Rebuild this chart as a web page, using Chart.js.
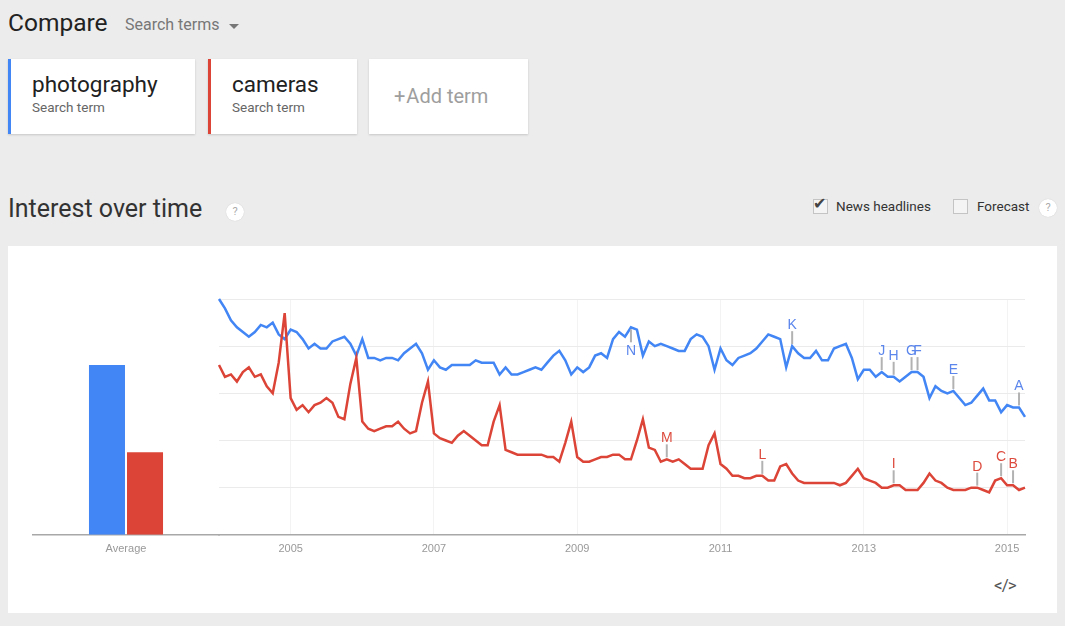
<!DOCTYPE html>
<html>
<head>
<meta charset="utf-8">
<script src="https://cdn.jsdelivr.net/npm/chart.js@4.4.1/dist/chart.umd.min.js"></script>
<style>
  body { margin: 0; width: 1065px; height: 626px; overflow: hidden; background: #ececec; font-family: Roboto, Arial, sans-serif; position: relative; }
  .abs { position: absolute; line-height: 1; white-space: nowrap; }
  .card { position: absolute; top: 59px; height: 75px; background: #fff; box-shadow: 0 1px 2px rgba(0,0,0,0.16); box-sizing: border-box; }
  .term { position: absolute; left: 24px; top: 14px; font-size: 22.5px; color: #212121; line-height: 1; }
  .sub { position: absolute; left: 24px; top: 42px; font-size: 13.5px; color: #666; line-height: 1; }
  .help { position: absolute; width: 18px; height: 18px; border-radius: 50%; background: #fff; color: #aaa; font: 11px Roboto, Arial; text-align: center; line-height: 18px; box-shadow: 0 0 1px rgba(0,0,0,0.2); }
  .box { position: absolute; width: 15px; height: 15px; border: 1px solid #c4c4c4; background: #f4f4f4; box-sizing: border-box; }
  #panel { position: absolute; left: 8px; top: 246px; width: 1049px; height: 367px; background: #fff; }
  canvas { position: absolute; }
</style>
</head>
<body>
<div class="abs" style="left:8px;top:11px;font-size:24.5px;color:#222;">Compare</div>
<div class="abs" style="left:125px;top:17px;font-size:16px;color:#777;">Search terms</div>
<div class="abs" style="left:229px;top:24px;width:0;height:0;border-left:5px solid transparent;border-right:5px solid transparent;border-top:5px solid #777;"></div>

<div class="card" style="left:8px;width:187px;border-left:3px solid #4285f4;">
  <div class="term" style="left:21px;">photography</div>
  <div class="sub" style="left:21px;">Search term</div>
</div>
<div class="card" style="left:208px;width:149px;border-left:3px solid #db4437;">
  <div class="term" style="left:21px;">cameras</div>
  <div class="sub" style="left:21px;">Search term</div>
</div>
<div class="card" style="left:369px;width:159px;">
  <div class="abs" style="left:25px;top:27px;font-size:20px;color:#9e9e9e;"><span style="margin-right:1px;">+</span>Add term</div>
</div>

<div class="abs" style="left:8px;top:196px;font-size:25px;color:#333;">Interest over time</div>
<div class="help" style="left:226px;top:203px;">?</div>

<div class="box" style="left:813px;top:199px;"></div>
<div class="abs" style="left:813px;top:196px;font-size:16px;color:#444;font-family:'DejaVu Sans';">&#10004;</div>
<div class="abs" style="left:836px;top:200px;font-size:13.5px;color:#333;">News headlines</div>
<div class="box" style="left:953px;top:199px;"></div>
<div class="abs" style="left:977px;top:200px;font-size:13.5px;color:#333;">Forecast</div>
<div class="help" style="left:1039px;top:199px;">?</div>

<div id="panel"></div>
<canvas id="avgChart" width="200" height="290" style="left:20px;top:280px;"></canvas>
<canvas id="lineChart" width="845" height="290" style="left:200px;top:280px;"></canvas>
<div class="abs" style="left:994px;top:577px;font-size:17px;color:#555;letter-spacing:-1px;">&lt;/&gt;</div>

<script>
// monthly interest, Jan 2004 onwards
const photography = [
  100, 96, 91, 88, 86, 84, 86, 89, 88, 90, 85, 83,
  87, 86, 83, 79, 81, 79, 79, 82, 83, 84, 81, 76,
  83, 75, 75, 74, 75, 75, 74, 77, 79, 81, 77, 70,
  74, 71, 70, 72, 72, 72, 72, 74, 73, 73, 73, 68,
  71, 68, 68, 69, 70, 71, 70, 73, 76, 78, 74, 68,
  71, 69, 71, 76, 77, 75, 83, 86, 84, 88, 87, 76,
  82, 80, 81, 80, 79, 78, 78, 83, 85, 84, 80, 70,
  79, 74, 72, 75, 76, 77, 79, 82, 85, 84, 83, 71,
  80, 77, 75, 75, 78, 74, 74, 79, 80, 81, 75, 66,
  70, 70, 67, 69, 67, 67, 65, 67, 69, 69, 67, 58,
  63, 61, 60, 61, 58, 55, 56, 59, 62, 57, 57, 52,
  55, 54, 54, 50
];
const cameras = [
  72, 67, 68, 65, 69, 71, 67, 68, 63, 60, 73, 94,
  58, 53, 55, 52, 55, 56, 58, 56, 50, 49, 64, 75,
  48, 45, 44, 45, 46, 46, 48, 45, 43, 44, 56, 65,
  43, 41, 40, 39, 42, 44, 42, 40, 38, 38, 48, 55,
  36, 35, 34, 34, 34, 34, 34, 33, 33, 31, 39, 48,
  33, 31, 31, 32, 33, 33, 34, 34, 32, 32, 40, 49,
  37, 36, 31, 32, 31, 32, 30, 28, 28, 28, 38, 43,
  30, 28, 25, 25, 24, 24, 25, 25, 23, 23, 29, 30,
  26, 23, 22, 22, 22, 22, 22, 22, 21, 22, 25, 28,
  24, 23, 22, 20, 20, 21, 21, 19, 19, 19, 22, 26,
  23, 22, 20, 19, 19, 19, 20, 20, 19, 18, 23, 24,
  21, 21, 19, 20
];
const averageLabels = ['Average'];
const averages = [72, 35];
const headlines = [
  { letter: 'A', term: 'photography', month: '2015-03' },
  { letter: 'B', term: 'cameras', month: '2015-02' },
  { letter: 'C', term: 'cameras', month: '2014-12' },
  { letter: 'D', term: 'cameras', month: '2014-08' },
  { letter: 'E', term: 'photography', month: '2014-04' },
  { letter: 'F', term: 'photography', month: '2013-10' },
  { letter: 'G', term: 'photography', month: '2013-09' },
  { letter: 'H', term: 'photography', month: '2013-06' },
  { letter: 'I', term: 'cameras', month: '2013-06' },
  { letter: 'J', term: 'photography', month: '2013-04' },
  { letter: 'K', term: 'photography', month: '2012-01' },
  { letter: 'L', term: 'cameras', month: '2011-08' },
  { letter: 'M', term: 'cameras', month: '2010-04' },
  { letter: 'N', term: 'photography', month: '2009-10', below: true }
];

const months = [];
for (let i = 0; i < photography.length; i++) {
  const y = 2004 + Math.floor(i / 12);
  months.push(y + '-' + String(i % 12 + 1).padStart(2, '0'));
}
const isYearTick = i => months[i] && months[i].endsWith('-01') && (+months[i].slice(0, 4)) % 2 === 1;

const BLUE = '#4285f4', RED = '#db4437';
const letterColor = { photography: '#5b86ec', cameras: '#dd4b3e' };
const tickFont = { family: 'Arial, "Liberation Sans"', size: 11 };
const axisBorder = { color: '#a8a8a8', width: 1.5 };

const headlinePlugin = {
  id: 'headlines',
  afterDatasetsDraw(chart) {
    const ctx = chart.ctx;
    ctx.save();
    ctx.font = '14px Arial, "Liberation Sans"';
    ctx.textAlign = 'center';
    headlines.forEach(h => {
      const di = chart.data.datasets.findIndex(d => d.label === h.term);
      const idx = months.indexOf(h.month);
      const pt = chart.getDatasetMeta(di).data[idx];
      if (!pt) return;
      const dir = h.below ? 1 : -1;
      ctx.strokeStyle = '#b2b2b2';
      ctx.lineWidth = 2;
      ctx.beginPath();
      ctx.moveTo(pt.x, pt.y + dir * 2);
      ctx.lineTo(pt.x, pt.y + dir * 15);
      ctx.stroke();
      ctx.fillStyle = letterColor[h.term];
      ctx.textBaseline = h.below ? 'top' : 'alphabetic';
      ctx.fillText(h.letter, pt.x, pt.y + dir * 17);
    });
    ctx.restore();
  }
};

new Chart(document.getElementById('avgChart'), {
  type: 'bar',
  data: {
    labels: averageLabels,
    datasets: [
      { label: 'photography', data: [averages[0]], backgroundColor: BLUE },
      { label: 'cameras', data: [averages[1]], backgroundColor: RED }
    ]
  },
  options: {
    responsive: false,
    animation: false,
    categoryPercentage: 0.409,
    barPercentage: 0.947,
    layout: { padding: { left: 13, right: 1, top: 19, bottom: 6 } },
    plugins: { legend: { display: false }, tooltip: { enabled: false } },
    scales: {
      x: {
        grid: { display: false, drawTicks: false },
        border: axisBorder,
        ticks: { color: '#999', font: tickFont, padding: 8, maxRotation: 0 }
      },
      y: { display: false, min: 0, max: 100 }
    }
  }
});

new Chart(document.getElementById('lineChart'), {
  type: 'line',
  data: {
    labels: months,
    datasets: [
      { label: 'photography', data: photography, borderColor: BLUE, borderWidth: 2.5, pointRadius: 0, tension: 0, clip: false, order: 1 },
      { label: 'cameras', data: cameras, borderColor: RED, borderWidth: 2.5, pointRadius: 0, tension: 0, clip: false, order: 0 }
    ]
  },
  options: {
    responsive: false,
    animation: false,
    layout: { padding: { left: 19, right: 20, top: 19, bottom: 6 } },
    plugins: { legend: { display: false }, tooltip: { enabled: false } },
    scales: {
      x: {
        grid: { color: c => isYearTick(c.index) ? '#f3f3f3' : 'rgba(0,0,0,0)', drawTicks: false },
        border: axisBorder,
        ticks: {
          autoSkip: false, maxRotation: 0, minRotation: 0, padding: 8, color: '#999', font: tickFont,
          callback: (v, i) => isYearTick(i) ? months[i].slice(0, 4) : ''
        }
      },
      y: {
        min: 0, max: 100,
        ticks: { display: false, stepSize: 20 },
        grid: { color: '#ebebeb', drawTicks: false },
        border: { display: false }
      }
    }
  },
  plugins: [headlinePlugin]
});
</script>
</body>
</html>
